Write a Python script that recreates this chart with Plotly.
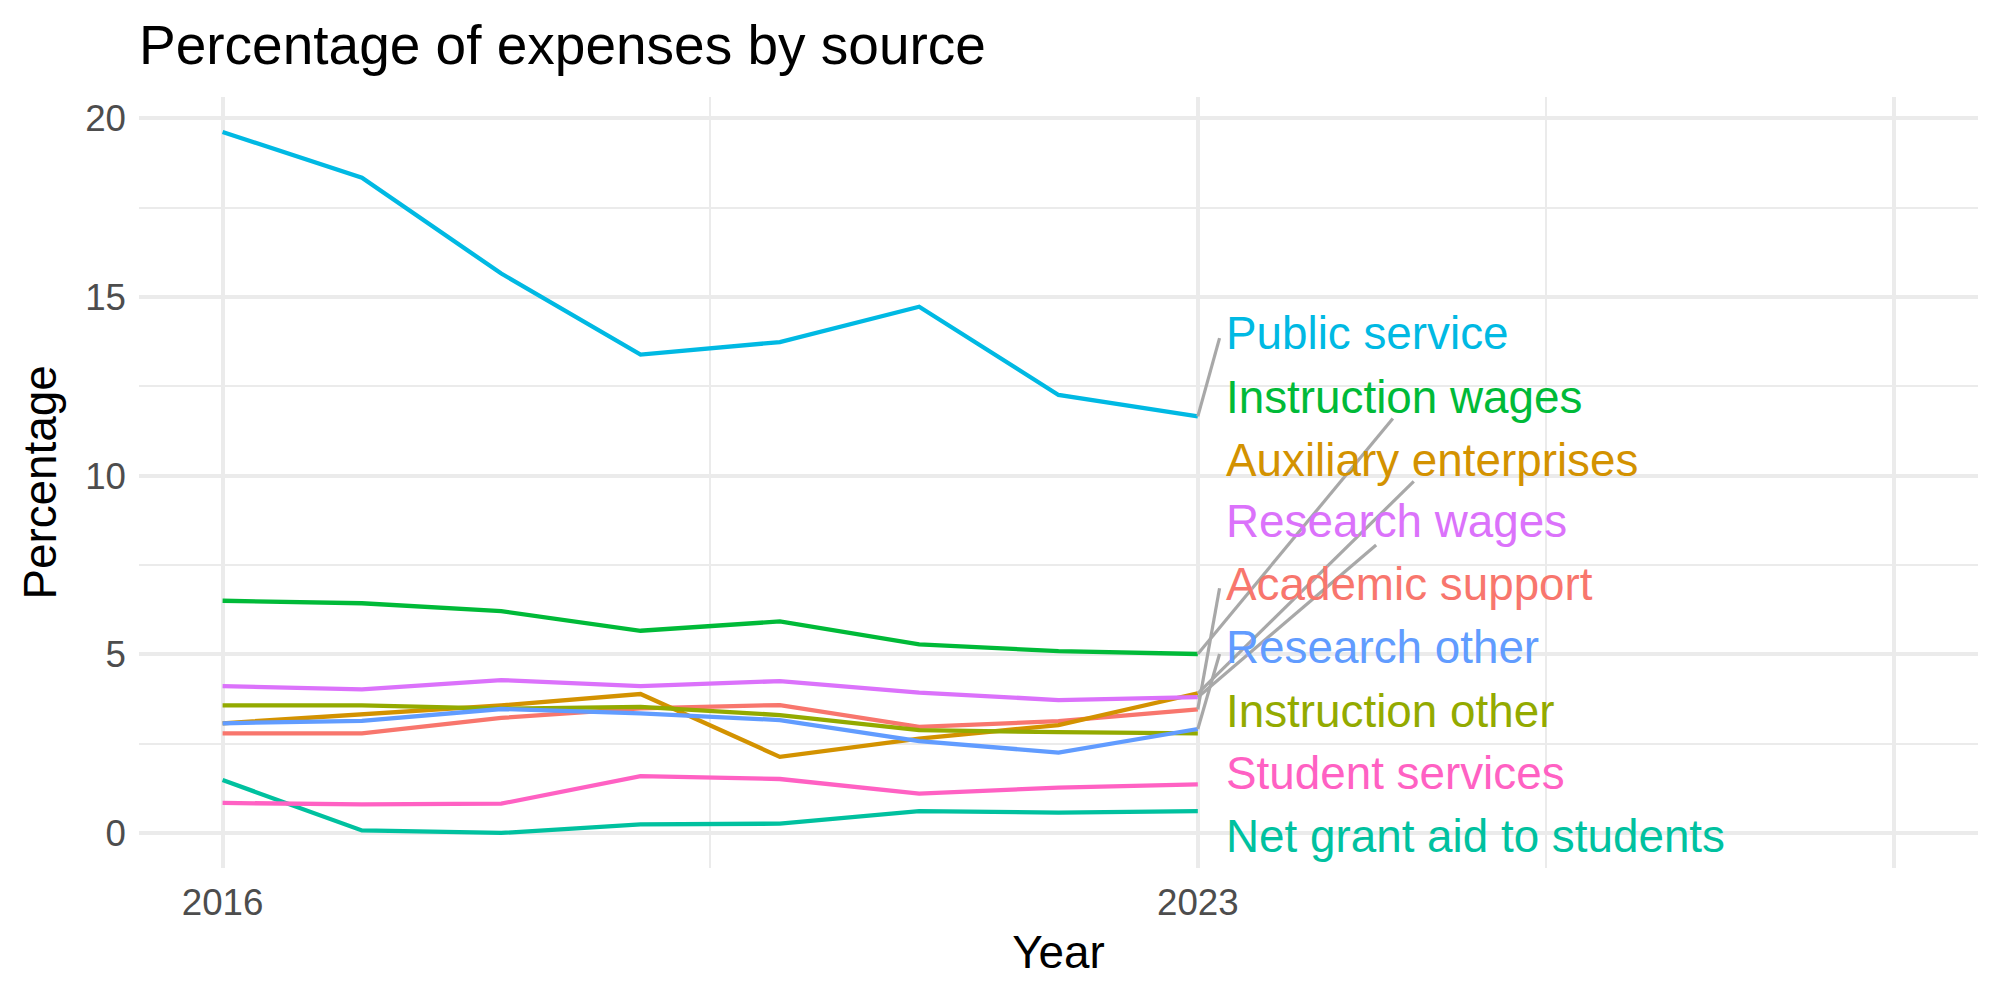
import plotly.graph_objects as go

# ---------------- data ----------------
years = [2016, 2017, 2018, 2019, 2020, 2021, 2022, 2023]

categories = [
    "Public service", "Instruction wages", "Auxiliary enterprises",
    "Research wages", "Academic support", "Research other",
    "Instruction other", "Student services", "Net grant aid to students",
]

public_service = [19.62, 18.34, 15.66, 13.39, 13.74, 14.73, 12.26, 11.66]
instruction_wages = [6.50, 6.43, 6.21, 5.66, 5.92, 5.28, 5.09, 5.01]
auxiliary_enterprises = [3.07, 3.32, 3.57, 3.89, 2.13, 2.64, 3.02, 3.91]
research_wages = [4.11, 4.02, 4.28, 4.11, 4.25, 3.93, 3.72, 3.80]
academic_support = [2.79, 2.79, 3.22, 3.49, 3.58, 2.97, 3.13, 3.46]
research_other = [3.07, 3.14, 3.47, 3.35, 3.16, 2.57, 2.25, 2.91]
instruction_other = [3.57, 3.57, 3.48, 3.53, 3.30, 2.88, 2.82, 2.79]
student_services = [0.84, 0.80, 0.82, 1.59, 1.51, 1.10, 1.27, 1.36]
net_grant_aid = [1.48, 0.07, 0.00, 0.24, 0.26, 0.61, 0.57, 0.61]

series_values = [
    public_service, instruction_wages, auxiliary_enterprises,
    research_wages, academic_support, research_other,
    instruction_other, student_services, net_grant_aid,
]

# repelled label positions (data units, as placed in the reference)
label_x = 2023.19
label_y = [13.97, 12.20, 10.43, 8.71, 6.95, 5.18, 3.41, 1.67, -0.11]
# connector end points (None = no connector drawn)
connector_end_x = [2023.156, 2024.40, 2024.55, 2024.28, 2023.156, 2023.156, None, None, None]
connector_end_y = [13.85, 11.60, 9.84, 8.06, 6.85, 5.01, None, None, None]

x_breaks = [2016, 2023, 2028]
x_labels = ["2016", "2023", ""]
x_minor = [2019.5, 2025.5]
y_breaks = [0, 5, 10, 15, 20]
y_minor = [2.5, 7.5, 12.5, 17.5]
x_limits = [2016, 2028]

# ---------------- styles ----------------
colors = {
    "Academic support": "#F8766D",
    "Auxiliary enterprises": "#D39200",
    "Instruction other": "#93AA00",
    "Instruction wages": "#00BA38",
    "Net grant aid to students": "#00C19F",
    "Public service": "#00B9E3",
    "Research other": "#619CFF",
    "Research wages": "#DB72FB",
    "Student services": "#FF61C3",
}
FONT = "Liberation Sans, Arial, Helvetica, sans-serif"
GRID = "#EBEBEB"

fig = go.Figure()

# draw lines in alphabetical (ggplot factor) order
order = sorted(range(len(categories)), key=lambda i: categories[i])
for i in order:
    fig.add_trace(go.Scatter(
        x=years, y=series_values[i], mode="lines", name=categories[i],
        line=dict(color=colors[categories[i]], width=4.3),
        showlegend=False, hoverinfo="skip",
    ))

# connectors
for i, cat in enumerate(categories):
    if connector_end_x[i] is None:
        continue
    fig.add_trace(go.Scatter(
        x=[years[-1], connector_end_x[i]],
        y=[series_values[i][-1], connector_end_y[i]],
        mode="lines", line=dict(color="#A8A8A8", width=3.2),
        showlegend=False, hoverinfo="skip",
    ))

# labels
for i, cat in enumerate(categories):
    fig.add_annotation(
        x=label_x, y=label_y[i], xref="x", yref="y", text=cat,
        showarrow=False, xanchor="left", yanchor="middle",
        font=dict(family=FONT, size=45.8, color=colors[cat]),
    )

all_vals = [v for s in series_values for v in s]
ymin, ymax = min(all_vals), max(all_vals)
ypad = 0.05 * (ymax - ymin)
xpad = 0.05 * (x_limits[1] - x_limits[0])

fig.update_layout(
    width=2000, height=1000, autosize=False,
    margin=dict(l=139, r=22, t=97, b=132, pad=0),
    plot_bgcolor="white", paper_bgcolor="white",
    font=dict(family=FONT),
    title=dict(
        text="Percentage of expenses by source",
        x=0, xref="paper", xanchor="left",
        y=1 - 45 / 1000, yref="container", yanchor="middle",
        font=dict(family=FONT, size=55, color="black"),
    ),
    xaxis=dict(
        range=[x_limits[0] - xpad, x_limits[1] + xpad],
        tickmode="array", tickvals=x_breaks, ticktext=x_labels,
        showgrid=True, gridcolor=GRID, gridwidth=4.4,
        zeroline=False, showline=False, ticks="",
        tickfont=dict(family=FONT, size=36.7, color="#4D4D4D"),
        ticklabelstandoff=9,
        minor=dict(tickmode="array", tickvals=x_minor, showgrid=True,
                   gridcolor=GRID, gridwidth=2.2, ticks=""),
        title=dict(text="Year", font=dict(family=FONT, size=45.8, color="black"),
                   standoff=14),
    ),
    yaxis=dict(
        range=[ymin - ypad, ymax + ypad],
        tickmode="array", tickvals=y_breaks,
        showgrid=True, gridcolor=GRID, gridwidth=4.4,
        zeroline=False, showline=False, ticks="",
        tickfont=dict(family=FONT, size=36.7, color="#4D4D4D"),
        ticklabelstandoff=12,
        minor=dict(tickmode="array", tickvals=y_minor, showgrid=True,
                   gridcolor=GRID, gridwidth=2.2, ticks=""),
        title=dict(text="Percentage", font=dict(family=FONT, size=45.8, color="black"),
                   standoff=14),
    ),
)

fig.write_html("out.html")
